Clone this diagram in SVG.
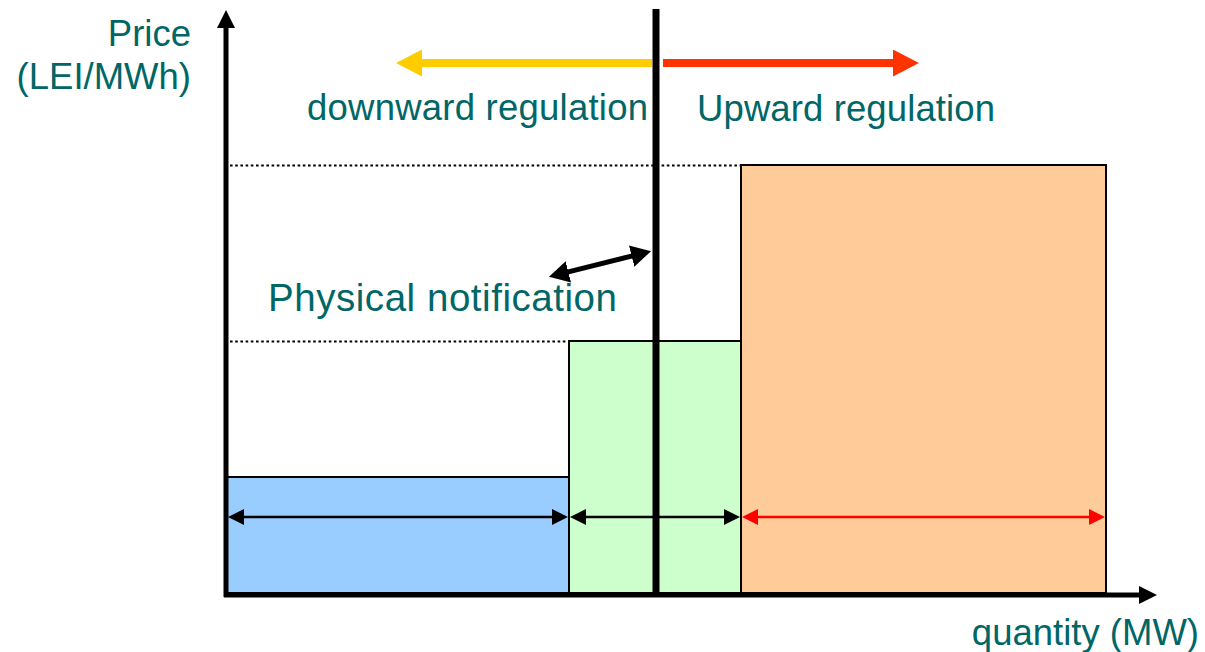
<svg xmlns="http://www.w3.org/2000/svg" width="1205" height="652" viewBox="0 0 1205 652">
<style>
.lbl{font-family:"Liberation Sans",Arial,sans-serif;font-size:36.5px;fill:#006666}
.blk{stroke:#000;stroke-width:2}
.dot{stroke:#000;stroke-width:2;stroke-dasharray:2.6 2.6;fill:none}
</style>
<defs>
<marker id="hs" markerUnits="userSpaceOnUse" markerWidth="16" markerHeight="16" viewBox="0 0 16 16" refX="1" refY="8" orient="auto-start-reverse"><path d="M0,0 L16,8 L0,16 z" fill="#000"/></marker>
<marker id="hr" markerUnits="userSpaceOnUse" markerWidth="16" markerHeight="16" viewBox="0 0 16 16" refX="1" refY="8" orient="auto-start-reverse"><path d="M0,0 L16,8 L0,16 z" fill="#FF0000"/></marker>
<marker id="ha" markerUnits="userSpaceOnUse" markerWidth="18" markerHeight="18" viewBox="0 0 18 18" refX="1" refY="9" orient="auto"><path d="M0,0 L18,9 L0,18 z" fill="#000"/></marker>
<marker id="hp" markerUnits="userSpaceOnUse" markerWidth="20" markerHeight="22" viewBox="0 0 20 22" refX="1" refY="11" orient="auto-start-reverse"><path d="M0,0 L20,11 L0,22 z" fill="#000"/></marker>
<marker id="hy" markerUnits="userSpaceOnUse" markerWidth="26" markerHeight="27" viewBox="0 0 26 27" refX="1" refY="13.5" orient="auto"><path d="M0,0 L26,13.5 L0,27 z" fill="#FFCC00"/></marker>
<marker id="ho" markerUnits="userSpaceOnUse" markerWidth="26" markerHeight="27" viewBox="0 0 26 27" refX="1" refY="13.5" orient="auto"><path d="M0,0 L26,13.5 L0,27 z" fill="#FF3300"/></marker>
</defs>
<rect width="1205" height="652" fill="#fff"/>
<g id="block-low"><rect class="blk" x="227" y="477" width="342" height="116" fill="#99CCFF"/></g>
<g id="block-mid"><rect class="blk" x="569" y="341" width="172" height="252" fill="#CCFFCC"/></g>
<g id="block-high"><rect class="blk" x="741" y="165" width="365" height="428" fill="#FFCC99"/></g>
<g id="guides">
<line class="dot" x1="230" y1="165.5" x2="741" y2="165.5"/>
<line class="dot" x1="230" y1="341.5" x2="569" y2="341.5"/>
</g>
<g id="connectors">
<line x1="656" y1="9" x2="656" y2="597" stroke="#000" stroke-width="7"/>
<line x1="226" y1="597" x2="226" y2="27" stroke="#000" stroke-width="5" marker-end="url(#ha)"/>
<line x1="224" y1="595" x2="1140" y2="595" stroke="#000" stroke-width="5" marker-end="url(#ha)"/>
<line x1="652" y1="63" x2="421" y2="63" stroke="#FFCC00" stroke-width="8" marker-end="url(#hy)"/>
<line x1="663" y1="63" x2="894" y2="63" stroke="#FF3300" stroke-width="8" marker-end="url(#ho)"/>
<line x1="567.4" y1="272.2" x2="632.6" y2="255.8" stroke="#000" stroke-width="5" marker-start="url(#hp)" marker-end="url(#hp)"/>
<line x1="243" y1="517" x2="553" y2="517" stroke="#000" stroke-width="2.5" marker-start="url(#hs)" marker-end="url(#hs)"/>
<line x1="585" y1="517" x2="725" y2="517" stroke="#000" stroke-width="2.5" marker-start="url(#hs)" marker-end="url(#hs)"/>
<line x1="757" y1="517" x2="1090" y2="517" stroke="#FF0000" stroke-width="2.5" marker-start="url(#hr)" marker-end="url(#hr)"/>
</g>
<g id="label-price"><text class="lbl" x="191" y="46" text-anchor="end">Price</text><text class="lbl" x="191" y="89" text-anchor="end">(LEI/MWh)</text></g>
<g id="label-down"><text class="lbl" x="307" y="120" textLength="341">downward regulation</text></g>
<g id="label-up"><text class="lbl" x="697" y="121" textLength="298">Upward regulation</text></g>
<g id="label-pn"><text class="lbl" x="268" y="311" style="font-size:38.5px" textLength="349">Physical notification</text></g>
<g id="label-qty"><text class="lbl" x="1199" y="645" text-anchor="end">quantity (MW)</text></g>
</svg>
